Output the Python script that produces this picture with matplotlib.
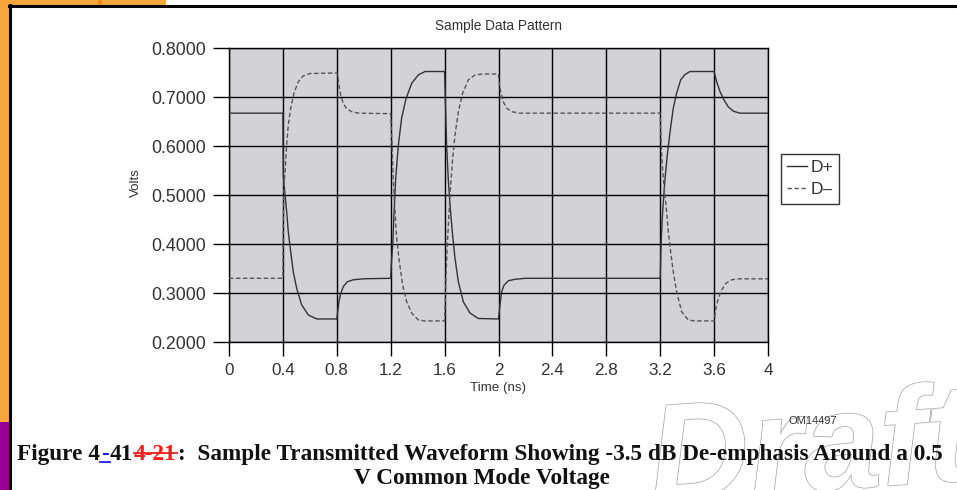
import numpy as np
import matplotlib
matplotlib.use('Agg')
import matplotlib.pyplot as plt
from matplotlib.patches import Rectangle
from matplotlib.lines import Line2D
import matplotlib.patheffects as pe
from matplotlib.ticker import FixedLocator

# ---------------- data ----------------
chart_title = "Sample Data Pattern"
x_label = "Time (ns)"
y_label = "Volts"
x_ticks = [0, 0.4, 0.8, 1.2, 1.6, 2.0, 2.4, 2.8, 3.2, 3.6, 4.0]
x_tick_labels = ['0', '0.4', '0.8', '1.2', '1.6', '2', '2.4', '2.8', '3.2', '3.6', '4']
y_ticks = [0.2, 0.3, 0.4, 0.5, 0.6, 0.7, 0.8]
y_tick_labels = ['0.2000', '0.3000', '0.4000', '0.5000', '0.6000', '0.7000', '0.8000']
series_names = ['D+', 'D\u2013']

dp_t = [0.000, 0.400, 0.401, 0.403, 0.416, 0.428, 0.440, 0.458, 0.477, 0.502, 0.539, 0.589, 0.651,
        0.800, 0.807, 0.816, 0.829, 0.848, 0.878, 0.923, 1.000, 1.200,
        1.205, 1.215, 1.225, 1.237, 1.257, 1.281, 1.314, 1.356, 1.405, 1.455, 1.600,
        1.608, 1.615, 1.627, 1.640, 1.657, 1.677, 1.702, 1.739, 1.789, 1.850, 2.000,
        2.011, 2.024, 2.041, 2.073, 2.122, 2.200, 3.200,
        3.206, 3.218, 3.236, 3.253, 3.273, 3.297, 3.322, 3.352, 3.384, 3.421, 3.600,
        3.619, 3.644, 3.673, 3.705, 3.743, 3.792, 4.000]
dp_v = [0.667, 0.667, 0.600, 0.540, 0.500, 0.466, 0.425, 0.384, 0.343, 0.310, 0.276, 0.255, 0.247,
        0.247, 0.262, 0.282, 0.299, 0.313, 0.323, 0.327, 0.329, 0.330,
        0.360, 0.398, 0.466, 0.534, 0.602, 0.657, 0.697, 0.728, 0.745, 0.752, 0.752,
        0.670, 0.602, 0.534, 0.480, 0.425, 0.371, 0.323, 0.282, 0.259, 0.248, 0.247,
        0.276, 0.303, 0.316, 0.325, 0.328, 0.330, 0.330,
        0.398, 0.466, 0.534, 0.582, 0.629, 0.677, 0.708, 0.735, 0.746, 0.752, 0.752,
        0.731, 0.711, 0.694, 0.680, 0.671, 0.667, 0.667]

dm_t = [0.000, 0.400, 0.403, 0.408, 0.416, 0.428, 0.440, 0.458, 0.482, 0.514, 0.551, 0.601,
        0.800, 0.807, 0.816, 0.829, 0.848, 0.873, 0.910, 0.960, 1.200,
        1.210, 1.219, 1.232, 1.244, 1.264, 1.289, 1.319, 1.356, 1.405, 1.455, 1.600,
        1.610, 1.620, 1.633, 1.645, 1.660, 1.677, 1.702, 1.734, 1.776, 1.826, 1.887, 2.000,
        2.004, 2.016, 2.036, 2.061, 2.098, 2.160, 3.200,
        3.204, 3.211, 3.223, 3.243, 3.260, 3.278, 3.297, 3.322, 3.359, 3.408, 3.458, 3.600,
        3.614, 3.631, 3.656, 3.688, 3.731, 3.792, 4.000]
dm_v = [0.330, 0.330, 0.450, 0.520, 0.548, 0.602, 0.643, 0.677, 0.708, 0.731, 0.743, 0.748,
        0.749, 0.745, 0.724, 0.704, 0.687, 0.676, 0.670, 0.667, 0.666,
        0.602, 0.534, 0.466, 0.412, 0.364, 0.316, 0.282, 0.259, 0.245, 0.243, 0.243,
        0.330, 0.398, 0.466, 0.520, 0.575, 0.622, 0.670, 0.708, 0.735, 0.745, 0.747, 0.747,
        0.731, 0.711, 0.690, 0.677, 0.670, 0.667, 0.667,
        0.629, 0.582, 0.534, 0.480, 0.425, 0.384, 0.343, 0.303, 0.262, 0.245, 0.243, 0.243,
        0.269, 0.289, 0.306, 0.320, 0.327, 0.329, 0.329]

figure_id = "OM14497"
caption_parts = ["Figure 4", "-", "41", "4-21",
                 ":  Sample Transmitted Waveform Showing -3.5 dB De-emphasis Around a 0.5"]
caption_colors = ['#111111', '#1a1aff', '#111111', '#ff1a1a', '#111111']
caption_line2 = "V Common Mode Voltage"
watermark = "Draft"

# ---------------- figure ----------------
W, H = 957, 490
fig = plt.figure(figsize=(W / 100, H / 100), dpi=100)
fig.patch.set_facecolor('white')


def fx(px):
    return px / W


def fy(py):
    return 1 - py / H


# page decorations
fig.add_artist(Rectangle((0, 0), fx(9), 1, transform=fig.transFigure,
                         facecolor='#f7a63c', edgecolor='none', zorder=0))
fig.add_artist(Rectangle((0, fy(6)), fx(166), 6 / H, transform=fig.transFigure,
                         facecolor='#f7a63c', edgecolor='none', zorder=0))
fig.add_artist(Rectangle((fx(98), fy(6)), fx(4), 6 / H, transform=fig.transFigure,
                         facecolor='#f08a1c', edgecolor='none', zorder=0))
fig.add_artist(Rectangle((0, 0), fx(9), fy(422), transform=fig.transFigure,
                         facecolor='#990099', edgecolor='none', zorder=0.1))
fig.add_artist(Line2D([fx(9.5), fx(9.5)], [0, fy(5.5)], transform=fig.transFigure,
                      color='black', lw=2.2, zorder=1))
fig.add_artist(Line2D([fx(8.5), 1], [fy(6.3), fy(6.3)], transform=fig.transFigure,
                      color='black', lw=2.2, zorder=1))

# watermark
fig.text(fx(645), fy(502), watermark, fontsize=100, fontweight='bold', style='italic',
         family='Liberation Sans', color='white', rotation=4, ha='left', va='baseline',
         zorder=1, path_effects=[pe.withStroke(linewidth=1.0, foreground='#a0a0a0')])

# axes
ax = fig.add_axes([fx(229), fy(342), (768 - 229) / W, (342 - 48) / H])
ax.set_facecolor('#d3d3d6')
l1, = ax.plot(dp_t, dp_v, color='#333333', lw=1.0, label=series_names[0], zorder=3)
l2, = ax.plot(dm_t, dm_v, color='#555555', lw=1.0, ls=(0, (3.2, 1.8)),
              label=series_names[1], zorder=3)
ax.set_xlim(0, 4)
ax.set_ylim(0.2, 0.8)
ax.xaxis.set_major_locator(FixedLocator(x_ticks))
ax.set_xticklabels(x_tick_labels)
ax.yaxis.set_major_locator(FixedLocator(y_ticks))
ax.set_yticklabels(y_tick_labels)
ax.set_axisbelow(True)
ax.grid(True, color='black', lw=1.0)
for s in ax.spines.values():
    s.set_color('black')
    s.set_linewidth(1.0)
ax.tick_params(axis='y', length=11.5, width=1.0, pad=5, labelsize=12.8,
               labelcolor='#333333', color='black')
ax.tick_params(axis='x', length=10, width=1.0, pad=5, labelsize=12.3,
               labelcolor='#333333', color='black')
for lab in ax.get_xticklabels() + ax.get_yticklabels():
    lab.set_family('Liberation Sans')
ax.set_xlabel(x_label, fontsize=9.6, color='#333333', family='Liberation Sans')
ax.set_ylabel(y_label, fontsize=9.6, color='#333333', family='Liberation Sans')
ax.xaxis.set_label_coords(0.5, -0.137)
ax.yaxis.set_label_coords(-0.162, 0.544)

fig.text(fx(498), fy(26), chart_title, ha='center', va='center', fontsize=9.8,
         color='#333333', family='Liberation Sans')

leg = fig.legend(handles=[l1, l2], loc='upper left', bbox_to_anchor=(fx(780.5), fy(154)),
                 bbox_transform=fig.transFigure, frameon=True, fancybox=False,
                 edgecolor='#333333', facecolor='white', framealpha=1,
                 prop={'family': 'Liberation Sans', 'size': 12.5},
                 handlelength=1.15, handletextpad=0.2, borderpad=0.36,
                 labelspacing=0.4, borderaxespad=0)
leg.get_frame().set_linewidth(1.0)
for t in leg.get_texts():
    t.set_color('#333333')

fig.text(fx(813), fy(421), figure_id, ha='center', va='center', fontsize=8,
         color='#333333', family='Liberation Sans', zorder=4)

# caption
cap_kw = dict(family='Liberation Serif', weight='bold', va='baseline', ha='left', zorder=5)
fs0 = 15
cap_texts = [fig.text(0, fy(460), s, color=c, fontsize=fs0, **cap_kw)
             for s, c in zip(caption_parts, caption_colors)]
fig.canvas.draw()
r = fig.canvas.get_renderer()
total = sum(t.get_window_extent(r).width for t in cap_texts)
fs = fs0 * (928 - 4) / total
for t in cap_texts:
    t.set_fontsize(fs)
fig.canvas.draw()
xpos = 17.0
exts = []
for t in cap_texts:
    w = t.get_window_extent(r).width
    t.set_x(fx(xpos))
    exts.append((xpos, xpos + w))
    xpos += w + 1.0
line2 = fig.text(fx(482), fy(483.5), caption_line2, fontsize=fs, color='#111111',
                 **{**cap_kw, 'ha': 'center'})

# underline for the inserted dash, strikethrough for deleted text
x0, x1 = exts[1]
fig.add_artist(Line2D([fx(x0 - 1), fx(x1 + 1)], [fy(461.5), fy(461.5)], transform=fig.transFigure,
                      color='#1a1aff', lw=1.3, zorder=6))
x0, x1 = exts[3]
fig.add_artist(Line2D([fx(x0), fx(x1)], [fy(453), fy(453)], transform=fig.transFigure,
                      color='#ff1a1a', lw=1.3, zorder=6))

fig.savefig('out.png', dpi=100, facecolor='white')
